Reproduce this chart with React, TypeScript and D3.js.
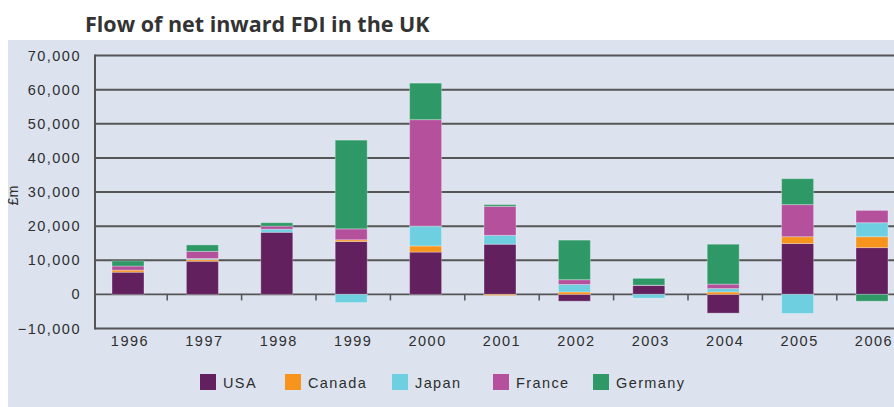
import React from "react";
import * as d3 from "d3";

const years = ["1996", "1997", "1998", "1999", "2000", "2001", "2002", "2003", "2004", "2005", "2006"];
const seriesNames = ["USA", "Canada", "Japan", "France", "Germany"];
const usa = [6500, 9700, 18200, 15500, 12400, 14700, -2000, 2600, -5500, 14900, 13700];
const canada = [600, 500, 0, 500, 1800, -300, 700, 0, 700, 2000, 3200];
const japan = [0, 300, 900, -2400, 5800, 2600, 2200, -1100, 1000, -5600, 4100];
const france = [1200, 2100, 900, 3200, 31200, 8500, 1400, 100, 1300, 9400, 3600];
const germany = [1500, 1900, 1000, 26000, 10700, 500, 11600, 2000, 11700, 7600, -2000];
const yTicks = [-10000, 0, 10000, 20000, 30000, 40000, 50000, 60000, 70000];
const colors = ["#62205f", "#f7941d", "#6ecfe0", "#b5519c", "#2e9966"];

const W = 894;
const H = 407;

export default function App() {
  const values = [usa, canada, japan, france, germany];
  const rows = years.map((y, i) => {
    const r: any = { year: y };
    seriesNames.forEach((s, k) => (r[s] = values[k][i]));
    return r;
  });
  const stacked = d3
    .stack<any>()
    .keys(seriesNames)
    .offset(d3.stackOffsetDiverging)(rows);

  const y = d3.scaleLinear().domain([-10000, 70000]).range([328.5, 55.5]);
  const x = d3
    .scaleBand<string>()
    .domain(years)
    .range([90.8, 90.8 + 11 * 74.4])
    .paddingInner(0.57)
    .paddingOuter(0.285);
  const step = x.step();
  const bw = x.bandwidth();
  const fmt = d3.format(",");
  const axisLeft = 95;
  const labelFont = "'Liberation Sans', Arial, sans-serif";

  const legendX = [200, 285, 392, 493, 593];

  return (
    <svg
      width={W}
      height={H}
      style={{ position: "absolute", left: 0, top: 0, display: "block" }}
    >
      <rect x={0} y={0} width={W} height={H} fill="#ffffff" />
      <rect x={8} y={40} width={W - 8} height={H - 40} fill="#dce3ef" />
      <text
        x={85}
        y={32}
        fontFamily="'Open Sans', sans-serif"
        fontWeight={700}
        fontSize={21.5}
        fill="#333333"
      >
        Flow of net inward FDI in the UK
      </text>

      {/* gridlines */}
      {yTicks.map((t) => (
        <line
          key={"g" + t}
          x1={axisLeft}
          x2={W}
          y1={y(t)}
          y2={y(t)}
          stroke="#555555"
          strokeWidth={t === 0 ? 1.6 : 2}
        />
      ))}
      <line x1={axisLeft} x2={axisLeft} y1={y(70000) - 1} y2={y(-10000) + 1} stroke="#555555" strokeWidth={2} />

      {/* y tick labels */}
      {yTicks.map((t) => (
        <text
          key={"yl" + t}
          x={81}
          y={y(t) + 5}
          textAnchor="end"
          fontFamily={labelFont}
          fontSize={14.5}
          letterSpacing={1.5}
          fill="#2e2e2e"
        >
          {fmt(t)}
        </text>
      ))}
      <text
        transform={`translate(18,${y(29000)}) rotate(-90)`}
        textAnchor="middle"
        fontFamily={labelFont}
        fontSize={14.5}
        fill="#2e2e2e"
      >
        £m
      </text>

      {/* x ticks between categories */}
      {years.slice(1).map((yr) => {
        const xx = (x(yr) as number) - (step - bw) / 2 + 2;
        return (
          <line
            key={"xt" + yr}
            x1={xx}
            x2={xx}
            y1={y(0)}
            y2={y(0) + 6}
            stroke="#555555"
            strokeWidth={1.5}
          />
        );
      })}

      {/* bars */}
      {stacked.map((layer, k) => (
        <g key={layer.key}>
          {layer.map((d, i) => {
            const y0 = y(d[0]);
            const y1 = y(d[1]);
            const top = Math.min(y0, y1);
            const h = Math.abs(y0 - y1);
            if (h < 0.01) return null;
            return (
              <rect
                key={i}
                x={x(years[i]) as number}
                y={top}
                width={bw}
                height={h}
                fill={colors[k]}
                stroke="rgba(255,255,255,0.3)"
                strokeWidth={1}
              />
            );
          })}
        </g>
      ))}

      {/* x labels */}
      {years.map((yr) => (
        <text
          key={"xl" + yr}
          x={(x(yr) as number) + bw / 2 + 2}
          y={346}
          textAnchor="middle"
          fontFamily={labelFont}
          fontSize={14.5}
          letterSpacing={1.5}
          fill="#2e2e2e"
        >
          {yr}
        </text>
      ))}

      {/* legend */}
      {seriesNames.map((s, k) => (
        <g key={"lg" + s}>
          <rect x={legendX[k]} y={374} width={16} height={16} fill={colors[k]} />
          <text
            x={legendX[k] + 23}
            y={388}
            fontFamily={labelFont}
            fontSize={14.5}
            letterSpacing={1.4}
            fill="#2e2e2e"
          >
            {s}
          </text>
        </g>
      ))}
    </svg>
  );
}
